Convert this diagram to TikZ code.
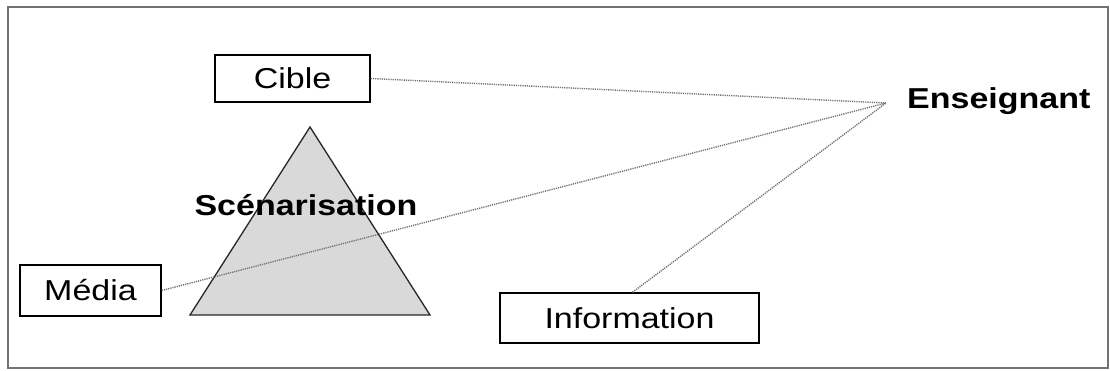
\documentclass[tikz,border=0pt]{standalone}
\usepackage{fontspec}
\setmainfont{Liberation Sans}[FakeStretch=1.18]
\begin{document}
\begin{tikzpicture}[x=1pt,y=-1pt,
  lbl/.style={font=\fontsize{28.8}{30}\selectfont, inner sep=0pt},
  boxnode/.style={lbl, draw=black, line width=1.5pt, fill=white},
  link/.style={draw=black!55, line width=1.4pt, dash pattern=on 1.2pt off 1pt},
  tri/.style={draw=black!85, line width=1.3pt, fill=black!15}]
\useasboundingbox (0,0) rectangle (1110,371);
\draw[black!55, line width=1.3pt] (8,7) rectangle (1108,368);
% triangle
\coordinate (ta) at (310,127);
\coordinate (tl) at (190,315);
\coordinate (tr) at (430,315);
\draw[tri] (ta) -- (tl) -- (tr) -- cycle;
% boxes
\node[boxnode, minimum width=155pt, minimum height=47pt] (cible) at (292.5,78.5) {Cible};
\node[boxnode, minimum width=141pt, minimum height=51pt] (media) at (90.5,290.5) {Média};
\node[boxnode, minimum width=259pt, minimum height=50pt] (info) at (629.5,318) {Information};
\node[lbl, font=\fontsize{28.8}{30}\selectfont\bfseries, anchor=west] (ens) at (907,101) {Enseignant};
\coordinate (conv) at (886,103);
% links
\draw[link] (cible.east) -- (conv);
\draw[link] (media.east) -- (conv);
\draw[link] ([xshift=3pt]info.north) -- (conv);
\node[lbl, font=\fontsize{28.8}{30}\selectfont\bfseries] (scen) at (306,205) {Scénarisation};
\end{tikzpicture}
\end{document}
